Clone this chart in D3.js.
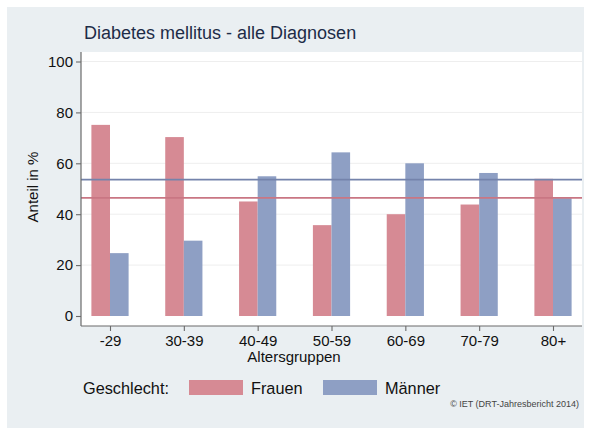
<!DOCTYPE html>
<html>
<head>
<meta charset="utf-8">
<script src="https://cdn.jsdelivr.net/npm/d3@7"></script>
<style>
  body { margin: 0; background: #ffffff; }
  text { font-family: "Liberation Sans", Arial, sans-serif; }
</style>
</head>
<body>
<svg id="chart" width="590" height="432"></svg>
<script>
// data
var altersgruppen = ["-29", "30-39", "40-49", "50-59", "60-69", "70-79", "80+"]
var frauen = [75.1, 70.3, 45.0, 35.7, 40.0, 43.8, 53.9]
var maenner = [24.7, 29.6, 54.9, 64.3, 60.0, 56.2, 46.3]
var gesamt_frauen = 46.4
var gesamt_maenner = 53.6
var y_ticks = [0, 20, 40, 60, 80, 100]

var col_frauen = "#d68a94"
var col_maenner = "#8e9fc4"
var col_line_frauen = "#c97683"
var col_line_maenner = "#7483ab"

var svg = d3.select("#chart")

// panel background
svg.append("rect")
    .attr("x", 7).attr("y", 7)
    .attr("width", 577).attr("height", 421)
    .attr("fill", "#eaeff2")

var plot_left = 81, plot_right = 582, plot_top = 52, axis_y = 326

svg.append("rect")
    .attr("x", plot_left).attr("y", plot_top)
    .attr("width", plot_right - plot_left).attr("height", axis_y - plot_top)
    .attr("fill", "#ffffff")

var y = d3.scaleLinear().domain([0, 100]).range([316, 61.5])
var x = d3.scalePoint().domain(altersgruppen).range([110, 553])
var bar_w = 18.6

// grid lines
svg.append("g").selectAll("line")
    .data(y_ticks.filter(function(d){ return d > 0 }))
    .enter().append("line")
    .attr("x1", plot_left).attr("x2", plot_right)
    .attr("y1", function(d){ return y(d) }).attr("y2", function(d){ return y(d) })
    .attr("stroke", "#eeeeee").attr("stroke-width", 1)

// bars
var rows = altersgruppen.map(function(g, i){ return {g: g, f: frauen[i], m: maenner[i]} })

var groups = svg.append("g").selectAll("g")
    .data(rows).enter().append("g")
    .attr("transform", function(d){ return "translate(" + x(d.g) + ",0)" })

groups.append("rect")
    .attr("x", -bar_w).attr("width", bar_w)
    .attr("y", function(d){ return y(d.f) })
    .attr("height", function(d){ return y(0) - y(d.f) })
    .attr("fill", col_frauen)

groups.append("rect")
    .attr("x", 0).attr("width", bar_w)
    .attr("y", function(d){ return y(d.m) })
    .attr("height", function(d){ return y(0) - y(d.m) })
    .attr("fill", col_maenner)

// reference lines (overall share)
svg.append("line")
    .attr("x1", plot_left).attr("x2", plot_right)
    .attr("y1", y(gesamt_maenner)).attr("y2", y(gesamt_maenner))
    .attr("stroke", col_line_maenner).attr("stroke-width", 1.6)

svg.append("line")
    .attr("x1", plot_left).attr("x2", plot_right)
    .attr("y1", y(gesamt_frauen)).attr("y2", y(gesamt_frauen))
    .attr("stroke", col_line_frauen).attr("stroke-width", 1.6)

// axes
var y_axis = svg.append("g")
    .attr("transform", "translate(" + plot_left + ",0)")
    .call(d3.axisLeft(y).tickValues(y_ticks).tickSize(5).tickPadding(3))
y_axis.select(".domain").attr("d", "M0," + plot_top + "V" + axis_y)

var x_axis = svg.append("g")
    .attr("transform", "translate(0," + axis_y + ")")
    .call(d3.axisBottom(x).tickSize(5).tickPadding(4))
x_axis.select(".domain").attr("d", "M" + plot_left + ",0H" + plot_right)

svg.selectAll(".domain").attr("stroke", "#6a6a6a").attr("stroke-width", 1.2)
svg.selectAll(".tick line").attr("stroke", "#6a6a6a").attr("stroke-width", 1.1)
svg.selectAll(".tick text")
    .attr("fill", "#111111")
    .style("font-size", "15px")
    .style("font-family", "Liberation Sans, Arial, sans-serif")

// titles
svg.append("text")
    .attr("x", 84).attr("y", 39)
    .attr("fill", "#1d2c48")
    .style("font-size", "18px")
    .text("Diabetes mellitus - alle Diagnosen")

svg.append("text")
    .attr("transform", "translate(38,187) rotate(-90)")
    .attr("text-anchor", "middle")
    .attr("fill", "#111111")
    .style("font-size", "15px")
    .text("Anteil in %")

svg.append("text")
    .attr("x", 294).attr("y", 362)
    .attr("text-anchor", "middle")
    .attr("fill", "#111111")
    .style("font-size", "15px")
    .text("Altersgruppen")

// legend
svg.append("text")
    .attr("x", 83).attr("y", 394)
    .attr("fill", "#111111")
    .style("font-size", "16.3px")
    .text("Geschlecht:")

var legend_items = [
    {name: "Frauen", color: col_frauen, x: 189},
    {name: "Männer", color: col_maenner, x: 323}
]
var leg = svg.append("g").selectAll("g")
    .data(legend_items).enter().append("g")
    .attr("transform", function(d){ return "translate(" + d.x + ",380)" })
leg.append("rect")
    .attr("width", 54).attr("height", 15)
    .attr("fill", function(d){ return d.color })
leg.append("text")
    .attr("x", 62).attr("y", 14)
    .attr("fill", "#111111")
    .style("font-size", "16.3px")
    .text(function(d){ return d.name })

svg.append("text")
    .attr("x", 579).attr("y", 407)
    .attr("text-anchor", "end")
    .attr("fill", "#444444")
    .style("font-size", "9px")
    .text("© IET (DRT-Jahresbericht 2014)")
</script>
</body>
</html>
